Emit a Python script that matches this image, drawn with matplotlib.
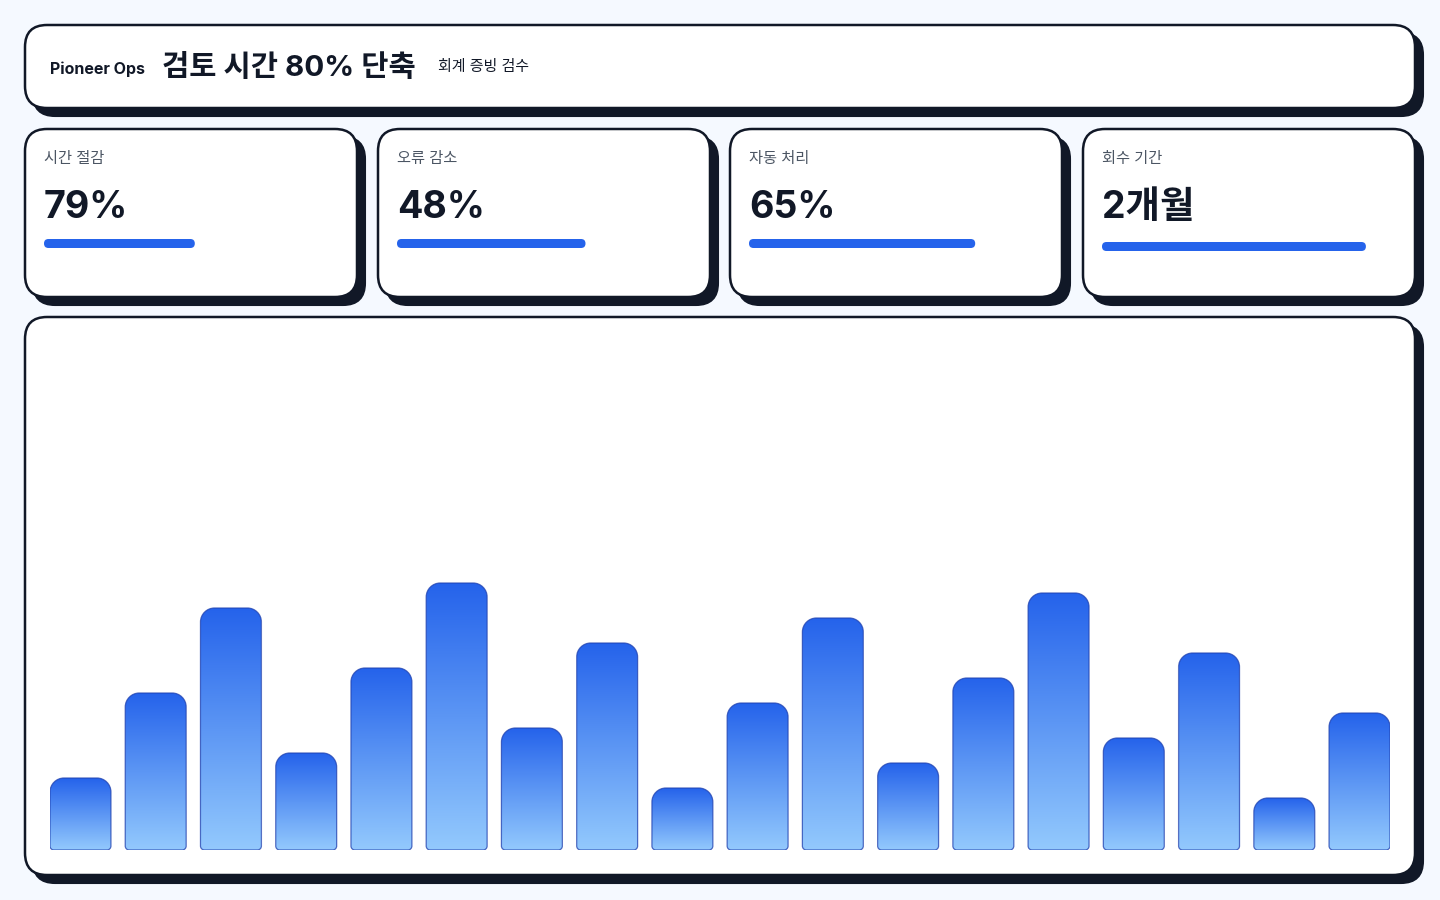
import matplotlib
matplotlib.use("Agg")
import matplotlib.pyplot as plt
import numpy as np
from matplotlib.patches import FancyBboxPatch, PathPatch
from matplotlib.path import Path
from matplotlib.colors import LinearSegmentedColormap

plt.rcParams['font.family'] = ['Inter', 'Noto Sans CJK KR', 'DejaVu Sans']

# ---------------- data ----------------
brand = "Pioneer Ops"
title = "검토 시간 80% 단축"
subtitle = "회계 증빙 검수"
kpi_labels = ["시간 절감", "오류 감소", "자동 처리", "회수 기간"]
kpi_values = ["79%", "48%", "65%", "2개월"]
kpi_progress = [0.40, 0.50, 0.60, 0.70]
bar_values = [72, 157, 242, 97, 182, 267, 122, 207, 62, 147, 232, 87, 172, 257, 112, 197, 52, 137]

# ---------------- style ----------------
BG = "#F5F9FF"
INK = "#111827"
GRAY = "#4B5563"
BLUE = "#2563EB"
LIGHT = "#93C9FD"

W, H = 1440, 900
fig = plt.figure(figsize=(14.4, 9), dpi=100, facecolor=BG)
bg = fig.add_axes([0, 0, 1, 1])
bg.set_xlim(0, W)
bg.set_ylim(H, 0)
bg.axis("off")
bg.set_facecolor(BG)


def card(x0, y0, x1, y1, r=22, off=8):
    sh = FancyBboxPatch((x0 + off, y0 + off), x1 - x0, y1 - y0,
                        boxstyle=f"round,pad=0,rounding_size={r}",
                        facecolor=INK, edgecolor=INK, lw=1.5, zorder=1)
    bg.add_patch(sh)
    c = FancyBboxPatch((x0, y0), x1 - x0, y1 - y0,
                       boxstyle=f"round,pad=0,rounding_size={r}",
                       facecolor="white", edgecolor=INK, lw=1.8, zorder=2)
    bg.add_patch(c)


# header
card(25, 25, 1415, 108)
bg.text(50, 69, brand, fontsize=11.5, fontweight="bold", color=INK, va="center", ha="left", zorder=5)
bg.text(162, 68, title, fontsize=21.3, fontweight="bold", color=INK, va="center", ha="left", zorder=5)
bg.text(438, 67.5, subtitle, fontsize=10.8, color=INK, va="center", ha="left", zorder=5)

# KPI cards
card_x = [25, 378, 730, 1083]
card_w = 332
track_w = 377
for i, (lab, val, p) in enumerate(zip(kpi_labels, kpi_values, kpi_progress)):
    x0 = card_x[i]
    card(x0, 129, x0 + card_w, 297)
    tx = x0 + 19
    bg.text(tx, 158.5, lab, fontsize=11, color=GRAY, va="center", ha="left", zorder=5)
    bg.text(tx, 208, val, fontsize=27, fontweight="bold", color=INK, va="center", ha="left", zorder=5)
    yb = 239 if i < 3 else 242
    pb = FancyBboxPatch((tx, yb), track_w * p, 9,
                        boxstyle="round,pad=0,rounding_size=4.5",
                        facecolor=BLUE, edgecolor="none", zorder=5)
    bg.add_patch(pb)

# chart card
card(25, 317, 1415, 875)

# ---------------- bar chart ----------------
left_px, right_px = 50, 1390
bottom_px, top_px = 850, 338
ax = fig.add_axes([left_px / W, (H - bottom_px) / H, (right_px - left_px) / W, (bottom_px - top_px) / H])
ax.axis("off")
n = len(bar_values)
bw = 0.81
ax.set_xlim(-bw / 2, n - 1 + bw / 2)
ax.set_ylim(0, bottom_px - top_px)

px_per_x = (right_px - left_px) / (n - 1 + bw)
px_per_y = 1.0
K = 0.5523


def bar_path(x0, x1, y0, y1, rt, rb):
    rtx, rty = rt / px_per_x, rt / px_per_y
    rbx, rby = rb / px_per_x, rb / px_per_y
    v = [(x0 + rbx, y0), (x1 - rbx, y0),
         (x1 - rbx + K * rbx, y0), (x1, y0 + rby - K * rby), (x1, y0 + rby),
         (x1, y1 - rty),
         (x1, y1 - rty + K * rty), (x1 - rtx + K * rtx, y1), (x1 - rtx, y1),
         (x0 + rtx, y1),
         (x0 + rtx - K * rtx, y1), (x0, y1 - rty + K * rty), (x0, y1 - rty),
         (x0, y0 + rby),
         (x0, y0 + rby - K * rby), (x0 + rbx - K * rbx, y0), (x0 + rbx, y0),
         (x0 + rbx, y0)]
    c = [Path.MOVETO, Path.LINETO,
         Path.CURVE4, Path.CURVE4, Path.CURVE4,
         Path.LINETO,
         Path.CURVE4, Path.CURVE4, Path.CURVE4,
         Path.LINETO,
         Path.CURVE4, Path.CURVE4, Path.CURVE4,
         Path.LINETO,
         Path.CURVE4, Path.CURVE4, Path.CURVE4,
         Path.CLOSEPOLY]
    return Path(v, c)


cmap = LinearSegmentedColormap.from_list("g", [LIGHT, BLUE])
grad = np.linspace(0, 1, 256).reshape(-1, 1)
bars = ax.bar(range(n), bar_values, width=bw, color="none", edgecolor="none")
for rect in bars:
    x0 = rect.get_x()
    x1 = x0 + rect.get_width()
    y0 = rect.get_y()
    y1 = y0 + rect.get_height()
    path = bar_path(x0, x1, y0, y1, 14, 4)
    patch = PathPatch(path, facecolor="none", edgecolor="#1E40AF", lw=0.9, alpha=0.75, zorder=4)
    ax.add_patch(patch)
    im = ax.imshow(grad, extent=[x0, x1, y0, y1], origin="lower", cmap=cmap,
                   aspect="auto", zorder=3, interpolation="bilinear")
    im.set_clip_path(patch)

ax.set_xlim(-bw / 2, n - 1 + bw / 2)
ax.set_ylim(0, bottom_px - top_px)

fig.savefig("out.png", dpi=100, facecolor=BG)
